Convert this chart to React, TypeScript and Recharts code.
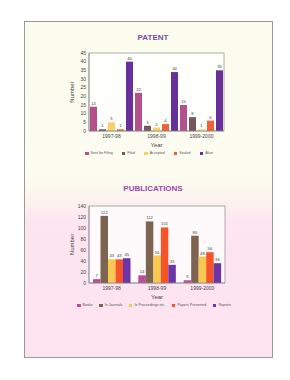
import React from "react";
import {
  BarChart, Bar, XAxis, YAxis, CartesianGrid, Legend, LabelList,
} from "recharts";

const years = ["1997-98", "1998-99", "1999-2000"];

// patent
const sentForFiling = [14, 22, 15];
const filed = [1, 3, 8];
const accepted = [5, 2, 1];
const sealed = [1, 4, 6];
const alive = [40, 34, 35];
const patentTicks = [0, 5, 10, 15, 20, 25, 30, 35, 40, 45];

// publications
const books = [7, 14, 5];
const inJournals = [122, 112, 86];
const inProceedings = [43, 50, 48];
const papersPresented = [43, 101, 56];
const reports = [45, 33, 36];
const pubTicks = [0, 20, 40, 60, 80, 100, 120, 140];

const patentData = years.map((year, i) => ({
  year,
  sent: sentForFiling[i],
  filed: filed[i],
  accepted: accepted[i],
  sealed: sealed[i],
  alive: alive[i],
}));

const pubData = years.map((year, i) => ({
  year,
  books: books[i],
  journals: inJournals[i],
  proceedings: inProceedings[i],
  papers: papersPresented[i],
  reports: reports[i],
}));

const PATENT_SERIES = [
  { key: "sent", name: "Sent for Filing", color: "#b4508c" },
  { key: "filed", name: "Filed", color: "#74585c" },
  { key: "accepted", name: "Accepted", color: "#f8d266" },
  { key: "sealed", name: "Sealed", color: "#f0603a" },
  { key: "alive", name: "Alive", color: "#6a309a" },
];

const PUB_SERIES = [
  { key: "books", name: "Books", color: "#bc4c98" },
  { key: "journals", name: "In Journals", color: "#7c6450" },
  { key: "proceedings", name: "In Proceedings etc.", color: "#f8c850" },
  { key: "papers", name: "Papers Presented", color: "#f55428" },
  { key: "reports", name: "Reports", color: "#6c34a4" },
];

const FONT = "'Liberation Sans', Arial, sans-serif";
const tick = { fill: "#444", fontSize: 5, fontFamily: FONT };

// box around the plot area, drawn as grid lines on the plot edges
const edgesX = ({ offset }: any) => [offset.left, offset.left + offset.width];
const edgesY = ({ offset }: any) => [offset.top, offset.top + offset.height];

function makeLegend(series: typeof PATENT_SERIES, width: number) {
  return () => (
    <div
      style={{
        display: "flex",
        justifyContent: "space-between",
        width,
        fontFamily: FONT,
        fontSize: 3.6,
        color: "#555",
        lineHeight: "5px",
      }}
    >
      {series.map((s) => (
        <span key={s.key} style={{ display: "flex", alignItems: "center", gap: 2 }}>
          <span style={{ width: 3.5, height: 3.5, background: s.color, display: "inline-block" }} />
          {s.name}
        </span>
      ))}
    </div>
  );
}

function Title({ text, top, color }: { text: string; top: number; color: string }) {
  return (
    <div
      style={{
        position: "absolute",
        left: 0,
        width: 306,
        top,
        textAlign: "center",
        fontFamily: FONT,
        fontWeight: "bold",
        fontSize: 8,
        color,
      }}
    >
      {text}
    </div>
  );
}

export default function App() {
  return (
    <div
      style={{
        position: "fixed",
        left: 0,
        top: 0,
        width: 290,
        height: 380,
        background: "#ffffff",
        overflow: "hidden",
      }}
    >
      <div
        style={{
          position: "absolute",
          left: 24,
          top: 21,
          width: 247,
          height: 335,
          border: "1px solid #9a9a9a",
          background: "linear-gradient(to bottom, #fbfbee 0px, #fcfcf0 155px, #fcf6ee 170px, #fde6f0 200px, #fde3f0 335px)",
        }}
      />
      <Title text="PATENT" top={33} color="#7a4e9e" />
      <Title text="PUBLICATIONS" top={184} color="#9a48b2" />

      <div style={{ position: "absolute", left: 60, top: 45 }}>
        <BarChart
          width={175}
          height={115}
          data={patentData}
          margin={{ top: 8, right: 11, left: 0, bottom: 4 }}
          barCategoryGap={1}
          barGap={2}
        >
          <CartesianGrid
            fill="#fefefa"
            stroke="#8a8a8a"
            strokeWidth={0.7}
            verticalCoordinatesGenerator={edgesX}
            horizontalCoordinatesGenerator={edgesY}
          />
          <XAxis
            dataKey="year"
            tick={tick}
            tickLine={false}
            tickSize={2}
            tickMargin={1}
            height={20}
            axisLine={{ stroke: "#8a8a8a", strokeWidth: 0.7 }}
            label={{ value: "Year", position: "insideBottom", offset: 4, fill: "#444", fontSize: 6, fontFamily: FONT }}
          />
          <YAxis
            domain={[0, 45]}
            ticks={patentTicks}
            interval={0}
            tick={tick}
            tickLine={false}
            tickSize={2}
            tickMargin={1}
            width={29}
            axisLine={{ stroke: "#8a8a8a", strokeWidth: 0.7 }}
            label={{ value: "Number", angle: -90, position: "insideLeft", offset: 12, fill: "#444", fontSize: 6, fontFamily: FONT, style: { textAnchor: "middle" } }}
          />
          <Legend
            verticalAlign="bottom"
            content={makeLegend(PATENT_SERIES, 128)}
            wrapperStyle={{ left: 25, width: 128 }}
          />
          {PATENT_SERIES.map((s) => (
            <Bar key={s.key} dataKey={s.key} name={s.name} fill={s.color} barSize={7} isAnimationActive={false}>
              <LabelList dataKey={s.key} position="top" offset={2} fill="#444" fontSize={4.2} fontFamily={FONT} />
            </Bar>
          ))}
        </BarChart>
      </div>

      <div style={{ position: "absolute", left: 60, top: 198 }}>
        <BarChart
          width={176}
          height={114}
          data={pubData}
          margin={{ top: 8, right: 11, left: 0, bottom: 4 }}
          barCategoryGap={4}
          barGap={0}
        >
          <CartesianGrid
            fill="#fefafc"
            stroke="#8a8a8a"
            strokeWidth={0.7}
            verticalCoordinatesGenerator={edgesX}
            horizontalCoordinatesGenerator={edgesY}
          />
          <XAxis
            dataKey="year"
            tick={tick}
            tickLine={false}
            tickSize={2}
            tickMargin={1}
            height={20}
            axisLine={{ stroke: "#8a8a8a", strokeWidth: 0.7 }}
            label={{ value: "Year", position: "insideBottom", offset: 4, fill: "#444", fontSize: 6, fontFamily: FONT }}
          />
          <YAxis
            domain={[0, 140]}
            ticks={pubTicks}
            interval={0}
            tick={tick}
            tickLine={false}
            tickSize={2}
            tickMargin={1}
            width={29}
            axisLine={{ stroke: "#8a8a8a", strokeWidth: 0.7 }}
            label={{ value: "Number", angle: -90, position: "insideLeft", offset: 12, fill: "#444", fontSize: 6, fontFamily: FONT, style: { textAnchor: "middle" } }}
          />
          <Legend
            verticalAlign="bottom"
            content={makeLegend(PUB_SERIES, 154)}
            wrapperStyle={{ left: 17, width: 154 }}
          />
          {PUB_SERIES.map((s) => (
            <Bar key={s.key} dataKey={s.key} name={s.name} fill={s.color} barSize={7.5} isAnimationActive={false}>
              <LabelList dataKey={s.key} position="top" offset={2} fill="#444" fontSize={4.2} fontFamily={FONT} />
            </Bar>
          ))}
        </BarChart>
      </div>
    </div>
  );
}
